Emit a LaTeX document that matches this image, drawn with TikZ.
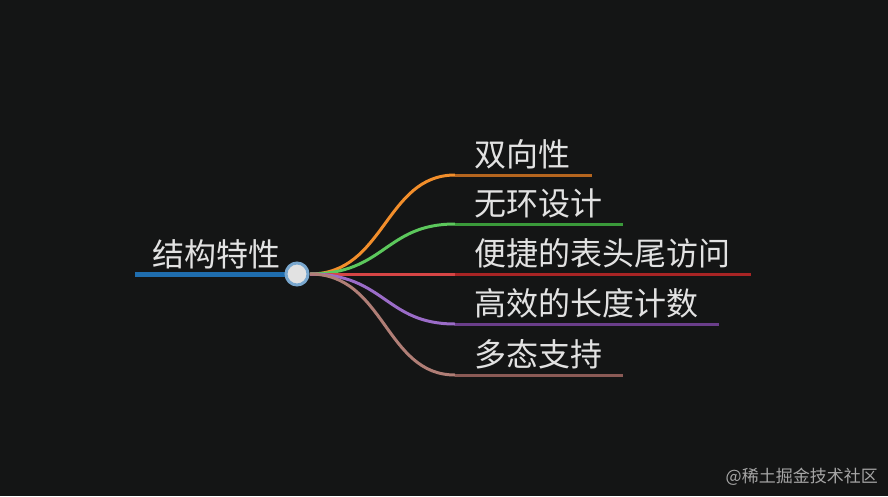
\documentclass[tikz,border=0pt]{standalone}
\usepackage{fontspec}
\newfontfamily\cjk{Noto Sans CJK SC}
\definecolor{bg}{HTML}{141515}
\definecolor{txt}{HTML}{E2E2E2}
\definecolor{rootc}{HTML}{1F6DAE}
\definecolor{o1}{HTML}{F28E2B}\definecolor{o2}{HTML}{B5651E}
\definecolor{g1}{HTML}{5CC85C}\definecolor{g2}{HTML}{3A9A3A}
\definecolor{r1}{HTML}{D64545}\definecolor{r2}{HTML}{A82424}
\definecolor{p1}{HTML}{9B6CC8}\definecolor{p2}{HTML}{6A3E8A}
\definecolor{b1}{HTML}{B07E76}\definecolor{b2}{HTML}{8A5A55}
\tikzset{lbl/.style={text=txt,font=\cjk\fontsize{32}{36}\selectfont,anchor=base west,inner sep=0pt},
curve/.style={line width=3pt},hline/.style={line width=3pt}}
\begin{document}
\begin{tikzpicture}[x=1pt,y=-1pt]
\fill[bg] (0,0) rectangle (888,496);
\useasboundingbox (0,0) rectangle (888,496);
\coordinate (rs) at (135,274);
\coordinate (c) at (310,274);
\draw[rootc,line width=5pt] (rs) -- (297,274);
\node[lbl] (root) at (152,266) {结构特性};
\foreach \y/\e/\ca/\cb/\t/\n in {175/592/o1/o2/双向性/a, 224/623/g1/g2/无环设计/b, 274/751/r1/r2/便捷的表头尾访问/c, 324/719/p1/p2/高效的长度计数/d, 375/623/b1/b2/多态支持/e}{
  \coordinate (s\n) at (455,\y);
  \coordinate (t\n) at (\e,\y);
  \draw[curve,\ca] (c) .. controls (385,274) and (385,\y) .. (s\n);
  \draw[hline,\cb] (s\n) -- (t\n);
  \node[lbl] (l\n) at (474,\y-9) {\t};
}
\node[draw=rootc!60!white,line width=3pt,circle,fill=txt,minimum size=22pt,inner sep=0pt] (hub) at (297,274) {};
\node[text=gray!70,font=\cjk\fontsize{17}{20}\selectfont,anchor=base east,inner sep=0pt] (wm) at (878,482) {@稀土掘金技术社区};
\end{tikzpicture}
\end{document}
